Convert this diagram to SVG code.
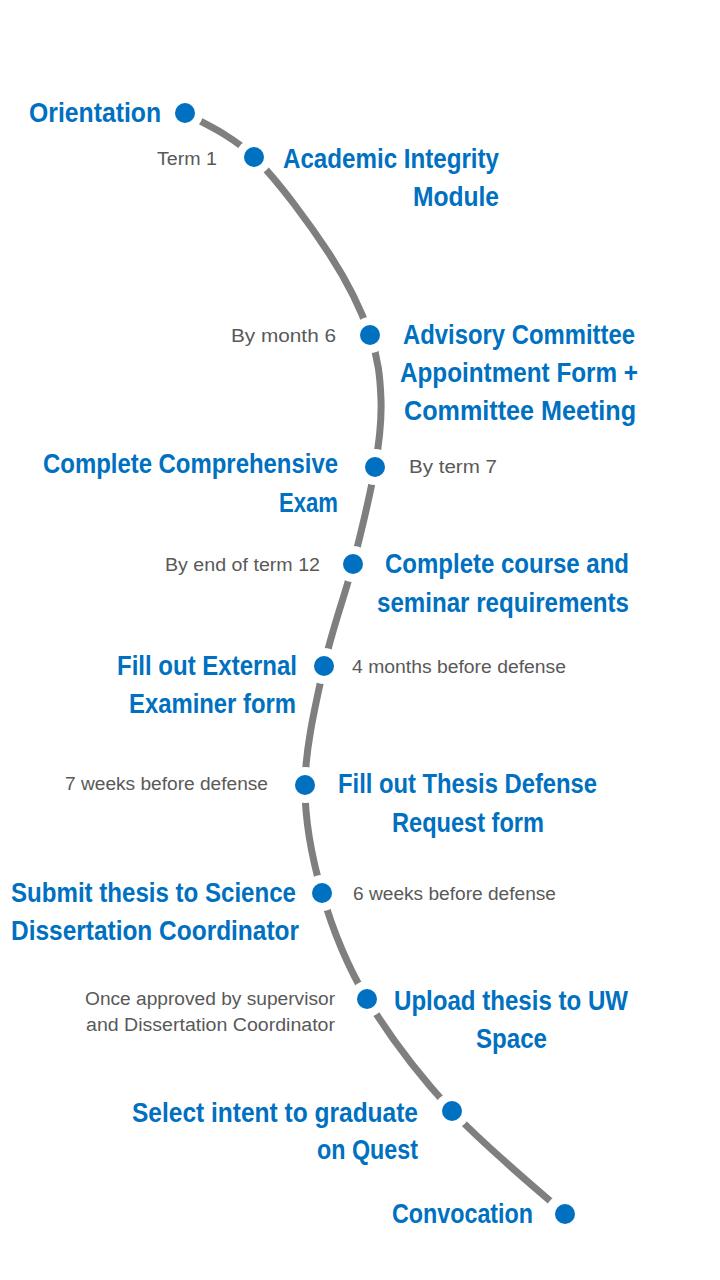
<svg xmlns="http://www.w3.org/2000/svg" width="720" height="1280" viewBox="0 0 720 1280">
<style>
.t{font-family:"Liberation Sans Narrow","Liberation Sans",sans-serif;font-weight:bold;font-size:28px;fill:#0070C0}
.g{font-family:"Liberation Sans",sans-serif;font-size:18px;fill:#595959}
.dot{fill:#0070C0}
.gap{fill:#ffffff}
</style>
<rect width="720" height="1280" fill="#ffffff"/>
<g id="connectors">
<path d="M185,113 C196.5,120.3 229.8,133.3 254,157 C278.2,180.7 310.7,225.3 330,255 C349.3,284.7 361.5,310.8 370,335 C378.5,359.2 380.2,378 381,400 C381.8,422 379.7,439.7 375,467 C370.3,494.3 361.5,530.8 353,564 C344.5,597.2 332,629.2 324,666 C316,702.8 305.3,747.2 305,785 C304.7,822.8 311.7,857.3 322,893 C332.3,928.7 345.3,962.7 367,999 C388.7,1035.3 419,1075.2 452,1111 C485,1146.8 546.2,1196.8 565,1214" fill="none" stroke="#7F7F7F" stroke-width="7"/>
<g class="gap">
<circle cx="185" cy="113" r="18"/><circle cx="254" cy="157" r="18"/><circle cx="370" cy="335" r="18"/><circle cx="375" cy="467" r="18"/><circle cx="353" cy="564" r="18"/><circle cx="324" cy="666" r="18"/><circle cx="305" cy="785" r="18"/><circle cx="322" cy="893" r="18"/><circle cx="367" cy="999" r="18"/><circle cx="452" cy="1111" r="18"/><circle cx="565" cy="1214" r="20"/>
</g>
</g>
<g id="n1"><circle class="dot" cx="185" cy="113" r="10"/><text class="t" x="29" y="122" textLength="132" lengthAdjust="spacingAndGlyphs">Orientation</text></g>
<g id="n2"><circle class="dot" cx="254" cy="157" r="10"/><text class="g" x="157" y="165" textLength="60" lengthAdjust="spacingAndGlyphs">Term 1</text><text class="t" x="283" y="168" textLength="216" lengthAdjust="spacingAndGlyphs">Academic Integrity</text><text class="t" x="413" y="206" textLength="86" lengthAdjust="spacingAndGlyphs">Module</text></g>
<g id="n3"><circle class="dot" cx="370" cy="335" r="10"/><text class="g" x="231" y="342" textLength="105" lengthAdjust="spacingAndGlyphs">By  month 6</text><text class="t" x="403" y="344" textLength="232" lengthAdjust="spacingAndGlyphs">Advisory Committee</text><text class="t" x="400" y="382" textLength="238" lengthAdjust="spacingAndGlyphs">Appointment Form +</text><text class="t" x="404" y="420" textLength="232" lengthAdjust="spacingAndGlyphs">Committee Meeting</text></g>
<g id="n4"><circle class="dot" cx="375" cy="467" r="10"/><text class="g" x="409" y="473" textLength="88" lengthAdjust="spacingAndGlyphs">By  term 7</text><text class="t" x="43" y="473" textLength="295" lengthAdjust="spacingAndGlyphs">Complete Comprehensive</text><text class="t" x="279" y="512" textLength="59" lengthAdjust="spacingAndGlyphs">Exam</text></g>
<g id="n5"><circle class="dot" cx="353" cy="564" r="10"/><text class="g" x="165" y="571" textLength="155" lengthAdjust="spacingAndGlyphs">By end of term 12</text><text class="t" x="385" y="573" textLength="244" lengthAdjust="spacingAndGlyphs">Complete course and</text><text class="t" x="377" y="612" textLength="252" lengthAdjust="spacingAndGlyphs">seminar requirements</text></g>
<g id="n6"><circle class="dot" cx="324" cy="666" r="10"/><text class="g" x="352" y="673" textLength="214" lengthAdjust="spacingAndGlyphs">4 months before defense</text><text class="t" x="117" y="675" textLength="180" lengthAdjust="spacingAndGlyphs">Fill out External</text><text class="t" x="129" y="713" textLength="167" lengthAdjust="spacingAndGlyphs">Examiner form</text></g>
<g id="n7"><circle class="dot" cx="305" cy="785" r="10"/><text class="g" x="65" y="790" textLength="203" lengthAdjust="spacingAndGlyphs">7 weeks before defense</text><text class="t" x="338" y="793" textLength="259" lengthAdjust="spacingAndGlyphs">Fill out Thesis Defense</text><text class="t" x="392" y="832" textLength="152" lengthAdjust="spacingAndGlyphs">Request form</text></g>
<g id="n8"><circle class="dot" cx="322" cy="893" r="10"/><text class="g" x="353" y="900" textLength="203" lengthAdjust="spacingAndGlyphs">6 weeks before defense</text><text class="t" x="11" y="902" textLength="285" lengthAdjust="spacingAndGlyphs">Submit thesis to Science</text><text class="t" x="11" y="940" textLength="288" lengthAdjust="spacingAndGlyphs">Dissertation Coordinator</text></g>
<g id="n9"><circle class="dot" cx="367" cy="999" r="10"/><text class="g" x="85" y="1005" textLength="250" lengthAdjust="spacingAndGlyphs">Once approved by supervisor</text><text class="g" x="86" y="1031" textLength="249" lengthAdjust="spacingAndGlyphs">and Dissertation Coordinator</text><text class="t" x="394" y="1010" textLength="234" lengthAdjust="spacingAndGlyphs">Upload thesis to UW</text><text class="t" x="476" y="1048" textLength="71" lengthAdjust="spacingAndGlyphs">Space</text></g>
<g id="n10"><circle class="dot" cx="452" cy="1111" r="10"/><text class="t" x="132" y="1122" textLength="286" lengthAdjust="spacingAndGlyphs">Select intent to graduate</text><text class="t" x="317" y="1159" textLength="101" lengthAdjust="spacingAndGlyphs">on Quest</text></g>
<g id="n11"><circle class="dot" cx="565" cy="1214" r="10"/><text class="t" x="392" y="1223" textLength="141" lengthAdjust="spacingAndGlyphs">Convocation</text></g>
</svg>
